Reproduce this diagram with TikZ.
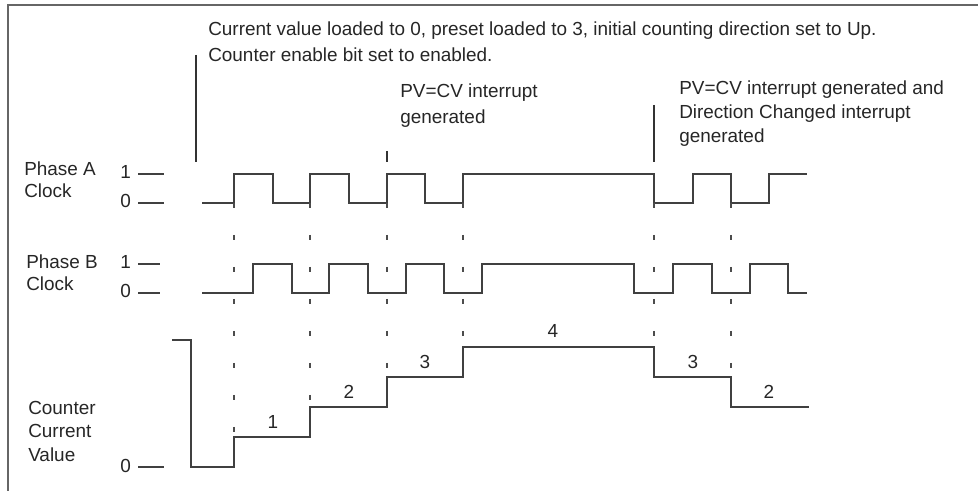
\documentclass[tikz,border=0pt]{standalone}
\usepackage{fontspec}
\setmainfont{Liberation Sans}
\begin{document}
\begin{tikzpicture}[x=0.75pt,y=-0.75pt]
    \tikzstyle{wave}=[draw=black!75, line width=1pt]
    \tikzstyle{level}=[draw=black!75, line width=1pt]
    \tikzstyle{marker}=[draw=black!80, line width=1.3pt]
    \tikzstyle{sync}=[draw=black!70, line width=0.9pt, dash pattern=on 3.75pt off 20.25pt]
    \tikzstyle{txt}=[inner sep=0pt, text=black!85, font=\fontsize{14.2pt}{19.5pt}\selectfont, align=left, anchor=base west]
    \tikzstyle{count}=[inner sep=0pt, text=black!85, font=\fontsize{14.2pt}{19.5pt}\selectfont, anchor=base]

    \useasboundingbox (0,0) rectangle (978,491);
    \draw[draw=black!60, line width=1.5pt] (8,491) -- (8,5) -- (978,5);

    % notes
    \node[txt] (load) at (208,62) {Current value loaded to 0, preset loaded to 3, initial counting direction set to Up.\\Counter enable bit set to enabled.};
    \node[txt, font=\fontsize{14.2pt}{20pt}\selectfont] (pvcv) at (400,124) {PV=CV interrupt\\generated};
    \node[txt, font=\fontsize{14.2pt}{18pt}\selectfont] (dirchg) at (679,143) {PV=CV interrupt generated and\\Direction Changed interrupt\\generated};
    \coordinate (m1a) at (196,55);  \coordinate (m1b) at (196,162);
    \coordinate (m2a) at (387,151); \coordinate (m2b) at (387,162);
    \coordinate (m3a) at (654,105); \coordinate (m3b) at (654,162);
    \draw[marker] (m1a) -- (m1b);
    \draw[marker] (m2a) -- (m2b);
    \draw[marker] (m3a) -- (m3b);

    % row labels
    \node[txt, font=\fontsize{14.2pt}{16.5pt}\selectfont] (phA) at (24,198) {Phase A\\Clock};
    \node[txt, font=\fontsize{14.2pt}{17pt}\selectfont] (phB) at (26,291) {Phase B\\Clock};
    \node[txt, font=\fontsize{14.2pt}{17.5pt}\selectfont] (cnt) at (28,461) {Counter\\Current\\Value};

    \node[txt] (a1) at (120,179) {1};
    \node[txt] (a0) at (120,208) {0};
    \node[txt] (b1) at (120,269) {1};
    \node[txt] (b0) at (120,298) {0};
    \node[txt] (c0) at (120,472) {0};
    \draw[level] (138,174) -- (164,174);
    \draw[level] (138,203) -- (164,203);
    \draw[level] (138,264) -- (160,264);
    \draw[level] (138,293) -- (160,293);
    \draw[level] (138,467) -- (164,467);

    % signals
    \draw[wave] (202,203) foreach \x/\y in {234/174,273/203,310/174,349/203,387/174,425/203,463/174,654/203,693/174,731/203,769/174} { -| (\x,\y) } -- (807,174);
    \draw[wave] (202,293) foreach \x/\y in {253/264,292/293,329/264,368/293,406/264,444/293,482/264,634/293,673/264,712/293,750/264,788/293} { -| (\x,\y) } -- (807,293);
    \draw[wave] (172,340) foreach \x/\y in {191/467,234/437,310/407,387/377,463/347,654/377,731/407} { -| (\x,\y) } -- (809,407);

    \foreach \x/\y in {234/437,310/407,387/377,463/347,654/347,731/377}
        \draw[sync] (\x,203) -- (\x,\y);

    \node[count] (v1) at (273,428) {1};
    \node[count] (v2) at (349,399) {2};
    \node[count] (v3) at (425,369) {3};
    \node[count] (v4) at (553,338) {4};
    \node[count] (v5) at (693,369) {3};
    \node[count] (v6) at (769,399) {2};
\end{tikzpicture}
\end{document}
